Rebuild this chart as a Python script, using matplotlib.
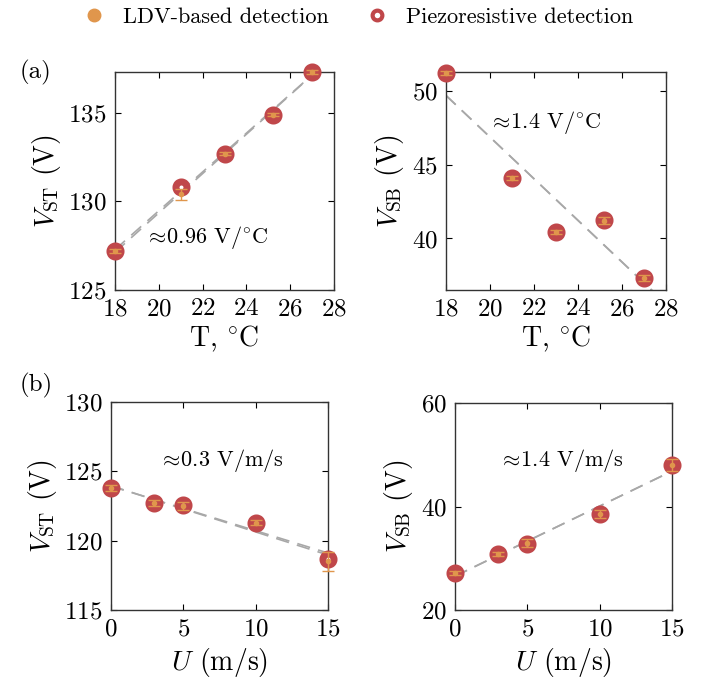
import numpy as np
import matplotlib
matplotlib.use("Agg")
import matplotlib.pyplot as plt

plt.rcParams['font.family'] = 'serif'
plt.rcParams['font.serif'] = ['cmr10']
plt.rcParams['mathtext.fontset'] = 'cm'
plt.rcParams['axes.formatter.use_mathtext'] = True

# temperature sweep (a)
temp = [18, 21, 23, 25.2, 27]
vst_piezo_T = [127.2, 130.8, 132.7, 134.9, 137.3]
vst_ldv_T = [127.2, 130.4, 132.7, 134.9, 137.3]
vst_err_T = [0.1, 0.3, 0.1, 0.1, 0.1]
vsb_piezo_T = [51.25, 44.1, 40.45, 41.25, 37.3]
vsb_ldv_T = [51.25, 44.1, 40.45, 41.2, 37.3]
vsb_err_T = [0.15, 0.15, 0.15, 0.25, 0.2]

# flow speed sweep (b)
flow = [0, 3, 5, 10, 15]
vst_piezo_U = [123.8, 122.7, 122.55, 121.3, 118.7]
vst_ldv_U = [123.8, 122.7, 122.5, 121.3, 118.5]
vst_err_U = [0.2, 0.2, 0.3, 0.2, 0.7]
vsb_piezo_U = [27.2, 30.8, 32.8, 38.5, 48.0]
vsb_ldv_U = [27.2, 30.8, 32.9, 38.5, 48.0]
vsb_err_U = [0.4, 0.4, 0.8, 0.8, 1.2]

red = '#c0474a'
orange = '#e0964c'
grey = '#a8a8a8'

fig = plt.figure(figsize=(7.12, 6.89), dpi=100)
W, H = 712, 689


def make_ax(l, r, t, b):
    return fig.add_axes([l / W, 1 - b / H, (r - l) / W, (b - t) / H])


def panel(ax, x, yp, yl, err, xlim, ylim, xticks, yticks, slope_txt, tx, ty):
    xx = np.array(xlim, dtype=float)
    for y in (yl, yp):
        k, c = np.polyfit(x, y, 1)
        ax.plot(xx, k * xx + c, '--', color=grey, lw=1.2, dashes=(8, 5), zorder=1)
    ax.plot(x, yp, 'o', ms=8, mfc='white', mec=red, mew=5, zorder=3, clip_on=False)
    ax.errorbar(x, yl, yerr=err, fmt='o', ms=3, color=orange, ecolor=orange,
                elinewidth=1.0, capsize=4.5, capthick=1.0, zorder=4, clip_on=False)
    ax.set_xlim(xlim)
    ax.set_ylim(ylim)
    ax.set_xticks(xticks)
    ax.set_yticks(yticks)
    ax.tick_params(direction='in', top=True, right=True, labelsize=18, length=4, pad=6)
    for s in ax.spines.values():
        s.set_linewidth(1.0)
        s.set_color('#333333')
    ax.text(tx, ty, slope_txt, transform=ax.transAxes, ha='center', va='center', fontsize=16)


deg_lbl = r'T, $^{\circ}\mathrm{C}$'

ax1 = make_ax(115, 334, 72, 290)
panel(ax1, temp, vst_piezo_T, vst_ldv_T, vst_err_T, (18, 28), (125, 137.3),
      [18, 20, 22, 24, 26, 28], [125, 130, 135], r'$\approx\!$0.96 V/$^{\circ}\mathrm{C}$', 0.42, 0.24)
ax1.set_xlabel(deg_lbl, fontsize=20, labelpad=2)
ax1.set_ylabel(r'$V_{\rm ST}$ (V)', fontsize=20)

ax2 = make_ax(446, 666, 72, 290)
panel(ax2, temp, vsb_piezo_T, vsb_ldv_T, vsb_err_T, (18, 28), (36.5, 51.3),
      [18, 20, 22, 24, 26, 28], [40, 45, 50], r'$\approx\!$1.4 V/$^{\circ}\mathrm{C}$', 0.45, 0.77)
ax2.set_xlabel(deg_lbl, fontsize=20, labelpad=2)
ax2.set_ylabel(r'$V_{\rm SB}$ (V)', fontsize=20)

ax3 = make_ax(111, 328, 402, 610)
panel(ax3, flow, vst_piezo_U, vst_ldv_U, vst_err_U, (0, 15), (115, 130),
      [0, 5, 10, 15], [115, 120, 125, 130], r'$\approx\!$0.3 V/m/s', 0.51, 0.72)
ax3.set_xlabel(r'$U$ (m/s)', fontsize=20, labelpad=4)
ax3.set_ylabel(r'$V_{\rm ST}$ (V)', fontsize=20)

ax4 = make_ax(455, 672, 403, 610)
panel(ax4, flow, vsb_piezo_U, vsb_ldv_U, vsb_err_U, (0, 15), (20, 60),
      [0, 5, 10, 15], [20, 40, 60], r'$\approx\!$1.4 V/m/s', 0.49, 0.72)
ax4.set_xlabel(r'$U$ (m/s)', fontsize=20, labelpad=4)
ax4.set_ylabel(r'$V_{\rm SB}$ (V)', fontsize=20)

fig.text(20 / W, 1 - 72 / H, '(a)', fontsize=18, va='center')
fig.text(20 / W, 1 - 385 / H, '(b)', fontsize=18, va='center')

h1 = plt.Line2D([], [], marker='o', ls='', ms=9, mfc=orange, mec=orange)
h2 = plt.Line2D([], [], marker='o', ls='', ms=7, mfc='white', mec=red, mew=3)
fig.legend([h1, h2], ['LDV-based detection', 'Piezoresistive detection'],
           loc='center', bbox_to_anchor=(0.495, 1 - 17 / H), ncol=2, frameon=False,
           fontsize=16, handletextpad=0.3, columnspacing=1.2)

fig.savefig('out.png', dpi=100)
